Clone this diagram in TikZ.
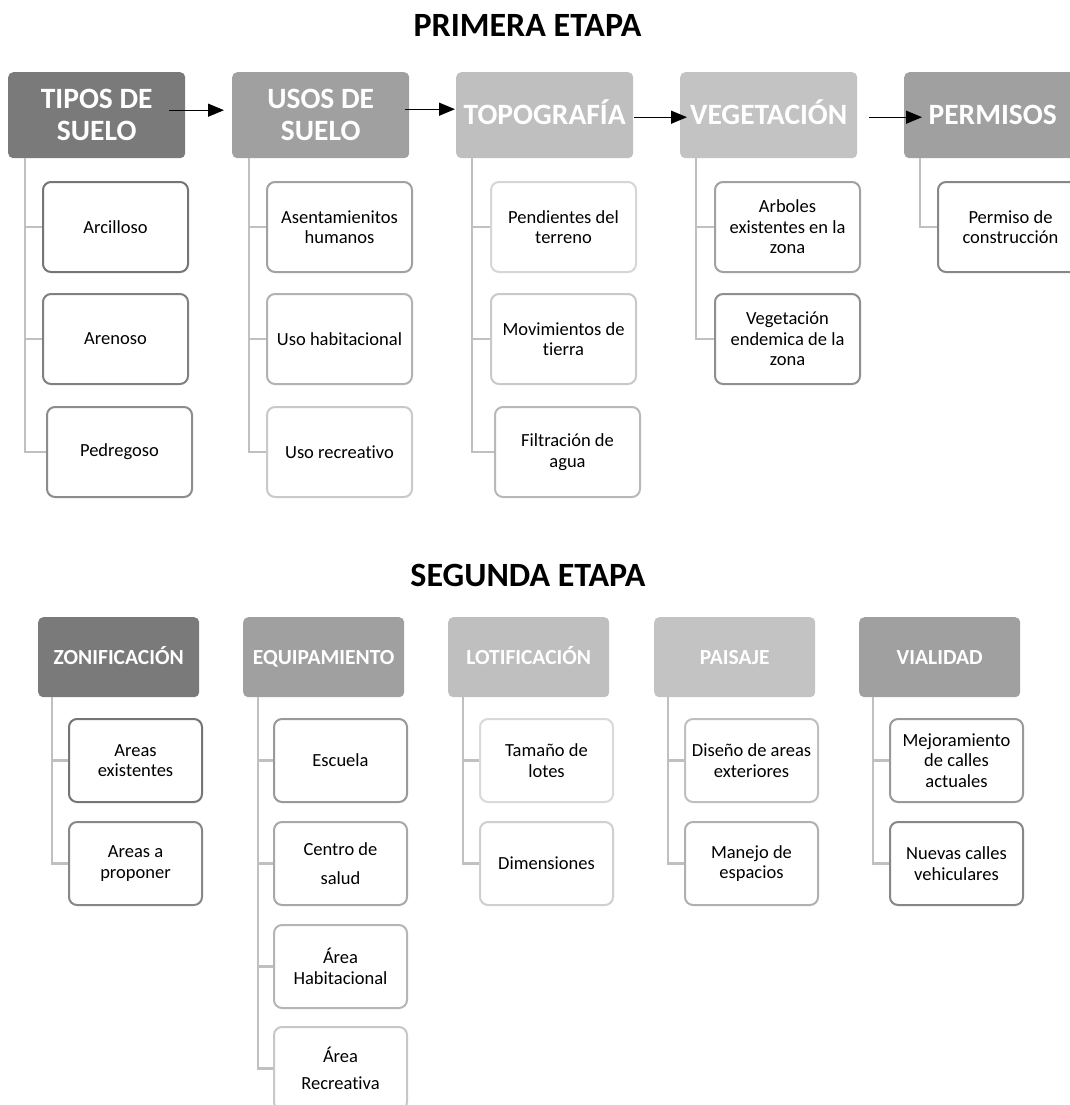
\documentclass[tikz,border=0pt]{standalone}
\usepackage{fontspec}
\setmainfont{Carlito}[Ligatures=NoCommon]
\usetikzlibrary{positioning,arrows.meta,calc}
\definecolor{grisA}{RGB}{122,122,122}
\definecolor{grisB}{RGB}{160,160,160}
\definecolor{grisC}{RGB}{191,191,191}
\definecolor{grisD}{RGB}{195,195,195}
\definecolor{ramacolor}{RGB}{192,192,192}

\tikzset{
  cabeza/.style={rounded corners=5pt, inner sep=0pt, text=white, align=center,
    minimum width=177pt, minimum height=86pt, anchor=north west,
    font=\bfseries\fontsize{29.5}{32}\selectfont},
  unalinea/.style={text height=18.5pt, text depth=0pt},
  cabezab/.style={cabeza, minimum width=161pt, minimum height=80pt,
    text height=14pt, text depth=0pt,
    font=\bfseries\fontsize{21.5}{24}\selectfont},
  hoja/.style={draw, line width=2pt, rounded corners=8pt, fill=white, inner sep=0pt,
    align=center, minimum width=145pt, minimum height=90pt, anchor=north west,
    font=\fontsize{18.5}{20.5}\selectfont},
  hojab/.style={hoja, minimum width=133pt, minimum height=83pt},
  rama/.style={draw=ramacolor, line width=2.2pt},
  flecha/.style={-{Triangle[length=16pt,width=13pt]}, line width=1.3pt},
  etapa/.style={font=\bfseries\fontsize{34}{38}\selectfont}
}

\begin{document}
\begin{tikzpicture}[x=1pt, y=-1pt]
    \useasboundingbox (0,0) rectangle (1070,1105);
    \clip (0,0) rectangle (1070,1105);

    % Primera etapa
    \node[etapa] (primera) at (527.5,25.5) {PRIMERA ETAPA};

    % Cabezas de la primera etapa
    \node[cabeza, fill=grisA] (tipos) at (8,72) {TIPOS DE\\SUELO};
    \node[cabeza, fill=grisB] (usos) at (232,72) {USOS DE\\SUELO};
    \node[cabeza, unalinea, fill=grisC] (topo) at (456,72) {TOPOGRAFÍA};
    \node[cabeza, unalinea, fill=grisD] (vege) at (680,72) {VEGETACIÓN};
    \node[cabeza, unalinea, fill=grisB] (perm) at (904,72) {PERMISOS};

    % Flechas entre cabezas
    \draw[flecha] ([xshift=-16pt,yshift=5pt]tipos.east) -- ([xshift=-8pt,yshift=5pt]usos.west);
    \draw[flecha] ([xshift=-4pt,yshift=6pt]usos.east) -- ([xshift=-1pt,yshift=6pt]topo.west);
    \draw[flecha] ([xshift=1pt,yshift=-2pt]topo.east) -- ([xshift=7pt,yshift=-2pt]vege.west);
    \draw[flecha] ([xshift=12pt,yshift=-2pt]vege.east) -- ([xshift=18pt,yshift=-2pt]perm.west);

    % Tipos de suelo
    \node[hoja, draw=black!54] (arci) at (42,181) {Arcilloso};
    \node[hoja, draw=black!50] (aren) at (42,293) {Arenoso};
    \node[hoja, draw=black!45] (pedr) at (46,406) {Pedregoso};
    \draw[rama] ([xshift=17pt]tipos.south west) |- (arci.west);
    \draw[rama] ([xshift=17pt]tipos.south west) |- (aren.west);
    \draw[rama] ([xshift=17pt]tipos.south west) |- (pedr.west);

    % Usos de suelo
    \node[hoja, draw=black!37] (asen) at (266,181) {Asentamienitos\\humanos};
    \node[hoja, draw=black!30] (habi) at (266,293) {Uso habitacional};
    \node[hoja, draw=black!21] (recr) at (266,406) {Uso recreativo};
    \draw[rama] ([xshift=17pt]usos.south west) |- (asen.west);
    \draw[rama] ([xshift=17pt]usos.south west) |- (habi.west);
    \draw[rama] ([xshift=17pt]usos.south west) |- (recr.west);

    % Topografia
    \node[hoja, draw=black!16] (pend) at (490,181) {Pendientes del\\terreno};
    \node[hoja, draw=black!21] (movi) at (490,293) {Movimientos de\\tierra};
    \node[hoja, draw=black!28] (filt) at (494,406) {Filtración de\\agua};
    \draw[rama] ([xshift=16pt]topo.south west) |- (pend.west);
    \draw[rama] ([xshift=16pt]topo.south west) |- (movi.west);
    \draw[rama] ([xshift=16pt]topo.south west) |- (filt.west);

    % Vegetacion
    \node[hoja, draw=black!37] (arbo) at (714,181) {Arboles\\existentes en la\\zona};
    \node[hoja, draw=black!44] (ende) at (714,293) {Vegetación\\endemica de la\\zona};
    \draw[rama] ([xshift=16pt]vege.south west) |- (arbo.west);
    \draw[rama] ([xshift=16pt]vege.south west) |- (ende.west);

    % Permisos
    \node[hoja, draw=black!47] (cons) at (937,181) {Permiso de\\construcción};
    \draw[rama] ([xshift=16pt]perm.south west) |- (cons.west);

    % Segunda etapa
    \node[etapa] (segunda) at (528,575.5) {SEGUNDA ETAPA};

    % Cabezas de la segunda etapa
    \node[cabezab, fill=grisA] (zoni) at (38,617) {ZONIFICACIÓN};
    \node[cabezab, fill=grisB] (equi) at (243,617) {EQUIPAMIENTO};
    \node[cabezab, fill=grisC] (loti) at (448,617) {LOTIFICACIÓN};
    \node[cabezab, fill=grisD] (pais) at (654,617) {PAISAJE};
    \node[cabezab, fill=grisB] (vial) at (859,617) {VIALIDAD};

    % Zonificacion
    \node[hojab, draw=black!54] (aexi) at (68,718) {Areas\\existentes};
    \node[hojab, draw=black!47] (apro) at (68,821) {Areas a\\proponer};
    \draw[rama] ([xshift=14pt]zoni.south west) |- (aexi.west);
    \draw[rama] ([xshift=14pt]zoni.south west) |- (apro.west);

    % Equipamiento
    \node[hojab, draw=black!40] (escu) at (273,718) {Escuela};
    \node[hojab, draw=black!34] (salu) at (273,821) {Centro de\\[8.5pt]salud};
    \node[hojab, draw=black!29] (ahab) at (273,924) {Área\\Habitacional};
    \node[hojab, draw=black!22] (arec) at (273,1026) {Área\\[7pt]Recreativa};
    \draw[rama] ([xshift=15pt]equi.south west) |- (escu.west);
    \draw[rama] ([xshift=15pt]equi.south west) |- (salu.west);
    \draw[rama] ([xshift=15pt]equi.south west) |- (ahab.west);
    \draw[rama] ([xshift=15pt]equi.south west) |- (arec.west);

    % Lotificacion
    \node[hojab, draw=black!15] (tama) at (479,718) {Tamaño de\\lotes};
    \node[hojab, draw=black!19] (dime) at (479,821) {Dimensiones};
    \draw[rama] ([xshift=15pt]loti.south west) |- (tama.west);
    \draw[rama] ([xshift=15pt]loti.south west) |- (dime.west);

    % Paisaje
    \node[hojab, draw=black!25] (dise) at (684,718) {Diseño de areas\\exteriores};
    \node[hojab, draw=black!31] (mane) at (684,821) {Manejo de\\espacios};
    \draw[rama] ([xshift=14pt]pais.south west) |- (dise.west);
    \draw[rama] ([xshift=14pt]pais.south west) |- (mane.west);

    % Vialidad
    \node[hojab, draw=black!40] (mejo) at (889,718) {Mejoramiento\\de calles\\actuales};
    \node[hojab, draw=black!47] (nuev) at (889,821) {Nuevas calles\\vehiculares};
    \draw[rama] ([xshift=14pt]vial.south west) |- (mejo.west);
    \draw[rama] ([xshift=14pt]vial.south west) |- (nuev.west);

\end{tikzpicture}
\end{document}
